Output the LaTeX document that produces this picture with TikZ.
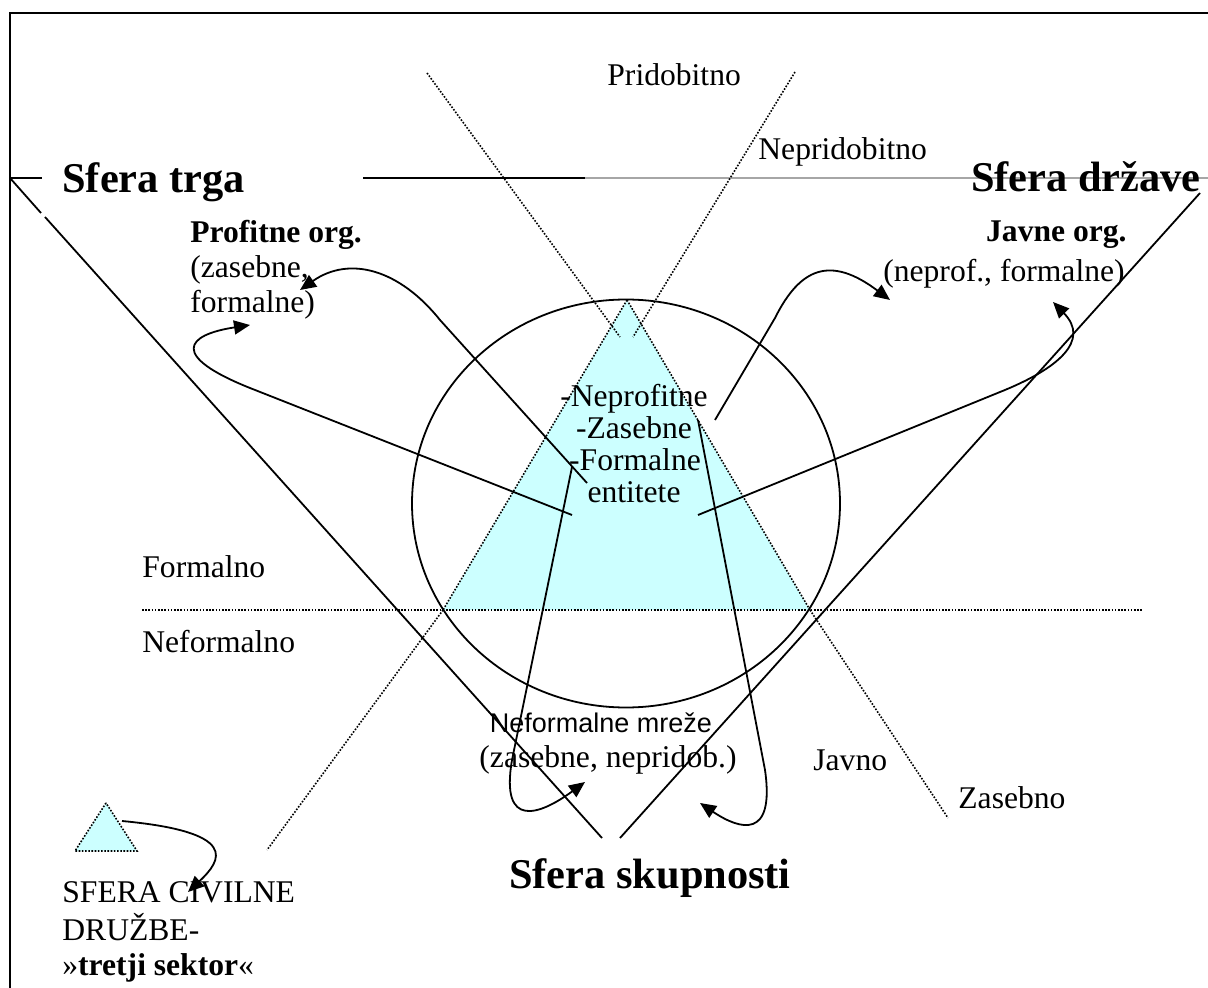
\documentclass[tikz,border=0pt]{standalone}
\usepackage{fontspec}
\setmainfont{Liberation Serif}
\setsansfont{Liberation Sans}
\usetikzlibrary{arrows.meta}
\definecolor{civil}{HTML}{CCFFFF}

\begin{document}
\begin{tikzpicture}[x=0.5pt,y=-0.5pt,
  frame/.style={line width=1pt},
  bound/.style={line width=0.9pt},
  dotline/.style={line width=0.8pt, dash pattern=on 0.8pt off 0.8pt},
  link/.style={line width=0.9pt, -{Triangle[length=8pt,width=7pt]}},
  lbl/.style={font=\fontsize{15.8}{17.5}\selectfont, inner sep=0pt},
  sfera/.style={font=\fontsize{21.2}{24}\selectfont\bfseries, inner sep=0pt},
  sanslbl/.style={font=\fontsize{13.5}{16}\selectfont\sffamily, inner sep=0pt}]
\useasboundingbox (0,0) rectangle (1208,988);

% outer frame
\draw[frame] (10,988) -- (10,13) -- (1208,13);

% civil society triangle
\fill[civil] (627,300) -- (443,610) -- (810,610) -- cycle;
\draw[dotline] (627,300) -- (443,610);
\draw[dotline] (627,300) -- (810,610);

% the community circle
\draw[bound] (626,503.5) ellipse [x radius=214, y radius=204];

% market / state / community wedge
\draw[bound] (10,178) -- (42,178);
\draw[bound] (363,178) -- (585,178);
\draw[bound, gray!70] (585,178) -- (1208,178);
\draw[bound] (10,178) -- (41,213);
\draw[bound] (45,217) -- (602,838);
\draw[bound] (620,838) -- (1200,193);

% dividing dotted lines
\draw[dotline] (142,610) -- (1143,610);
\draw[dotline] (427,73) -- (620,337);
\draw[dotline] (795,72) -- (633,337);
\draw[dotline] (443,610) -- (267,850);
\draw[dotline] (810,610) -- (948,818);

% legend triangle
\fill[civil] (106,803) -- (75,851) -- (137,851) -- cycle;
\draw[dotline] (106,803) -- (75,851) -- (137,851) -- cycle;

% labels of the dividing lines
\node[lbl, anchor=base west] (prid) at (607,86) {Pridobitno};
\node[lbl, anchor=base west] (neprid) at (758,160) {Nepridobitno};
\node[lbl, anchor=base west] (form) at (142,577) {Formalno};
\node[lbl, anchor=base west] (neform) at (142,652) {Neformalno};
\node[lbl, anchor=base west] (javno) at (813,770) {Javno};
\node[lbl, anchor=base west] (zasebno) at (958,808) {Zasebno};

% spheres
\node[sfera, anchor=base west] (trg) at (62,193) {Sfera trga};
\node[sfera, anchor=base east] (drz) at (1201,192) {Sfera države};
\node[sfera, anchor=base] (skup) at (650,888) {Sfera skupnosti};

% organisation types
\node[lbl, anchor=base west, font=\fontsize{15.8}{17.5}\selectfont\bfseries] (prof1) at (190,243) {Profitne org.};
\node[lbl, anchor=base west] (prof2) at (190,278) {(zasebne,};
\node[lbl, anchor=base west] (prof3) at (190,313) {formalne)};
\node[lbl, anchor=base east, font=\fontsize{15.8}{17.5}\selectfont\bfseries] (jav1) at (1127,242) {Javne org.};
\node[lbl, anchor=base east] (jav2) at (1125,282) {(neprof., formalne)};
\node[sanslbl, anchor=base] (mreze1) at (601,732) {Neformalne mreže};
\node[lbl, anchor=base] (mreze2) at (608,767) {(zasebne, nepridob.)};

% centre of the triangle
\node[lbl, anchor=base] (c1) at (634,407) {-Neprofitne};
\node[lbl, anchor=base] (c2) at (634,438) {-Zasebne};
\node[lbl, anchor=base] (c3) at (635,470) {-Formalne};
\node[lbl, anchor=base] (c4) at (634,502) {entitete};

% legend text
\node[lbl, anchor=base west] (leg1) at (62,902) {SFERA CIVILNE};
\node[lbl, anchor=base west] (leg2) at (62,940) {DRUŽBE-};
\node[lbl, anchor=base west] (leg3) at (62,975) {»\textbf{tretji sektor}«};

% connector end points
\coordinate (p1s) at (572,515);
\coordinate (p1e) at (250,325);
\coordinate (p2s) at (587,483);
\coordinate (p2e) at (300,290);
\coordinate (p3s) at (715,420);
\coordinate (p3e) at (890,300);
\coordinate (p4s) at (698,515);
\coordinate (p4e) at (1053,302);
\coordinate (p5s) at (572,467);
\coordinate (p5e) at (585,782);
\coordinate (p6s) at (698,420);
\coordinate (p6e) at (700,803);
\coordinate (p7s) at (122,821);
\coordinate (p7e) at (188,892);

% connectors from the third sector to the other spheres
\draw[link] (p1s) -- (250,388) .. controls (170,356) and (185,335) .. (p1e);
\draw[link] (p2s) -- (440,320) .. controls (400,270) and (350,255) .. (p2e);
\draw[link] (p3s) -- (775,318) .. controls (800,268) and (830,255) .. (p3e);
\draw[link] (p4s) -- (1000,392) .. controls (1060,368) and (1090,340) .. (p4e);
\draw[link] (p5s) -- (512,760) .. controls (500,830) and (540,815) .. (p5e);
\draw[link] (p6s) -- (765,770) .. controls (775,840) and (740,830) .. (p6e);
\draw[link] (p7s) .. controls (240,832) and (222,860) .. (p7e);
\end{tikzpicture}
\end{document}
